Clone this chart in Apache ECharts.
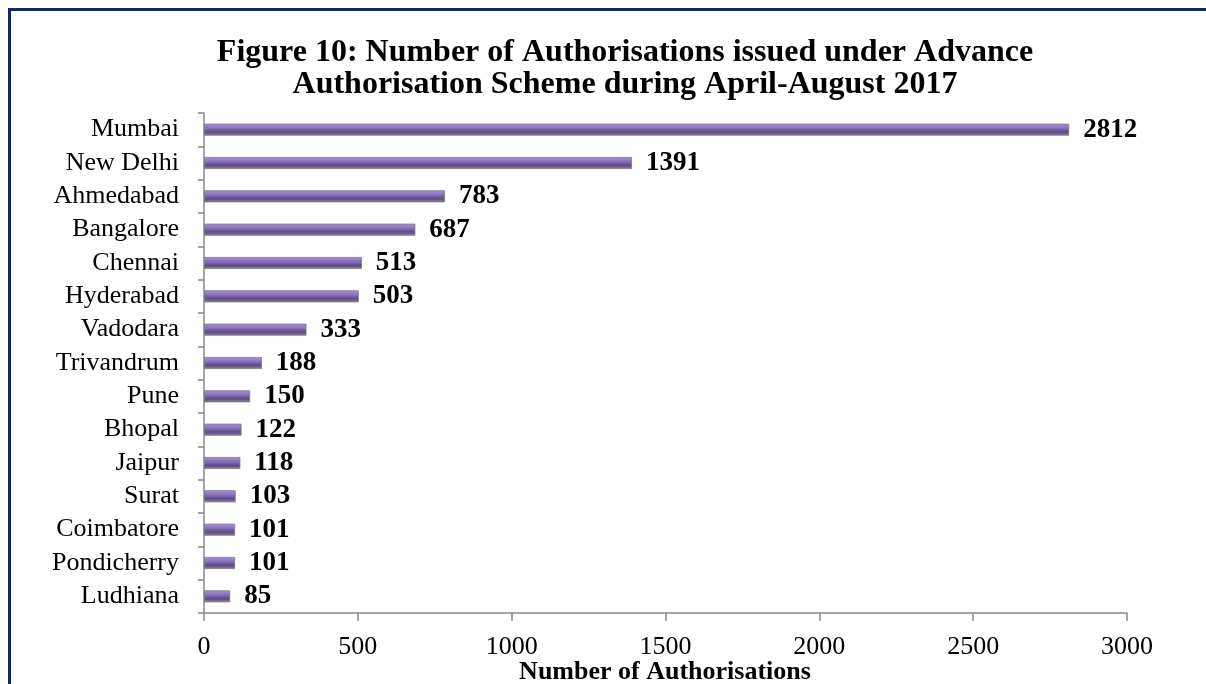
<!DOCTYPE html>
<html><head><meta charset="utf-8">
<script src="https://cdn.jsdelivr.net/npm/echarts@6/dist/echarts.min.js"></script>
<style>html,body{margin:0;padding:0;background:#fff}#c{width:1206px;height:684px}</style>
</head><body><div id="c"></div>
<script>
const categories = ['Mumbai','New Delhi','Ahmedabad','Bangalore','Chennai','Hyderabad','Vadodara','Trivandrum','Pune','Bhopal','Jaipur','Surat','Coimbatore','Pondicherry','Ludhiana'];
const values = [2812,1391,783,687,513,503,333,188,150,122,118,103,101,101,85];
const xTicks = [0,500,1000,1500,2000,2500,3000];
const xAxisTitle = 'Number of Authorisations';

const chart = echarts.init(document.getElementById('c'));
const font = '"Liberation Serif","Times New Roman",serif';
chart.setOption({
  animation:false,
  title:{
    text:'Figure 10: Number of Authorisations issued under Advance\nAuthorisation Scheme during April-August 2017',
    left:620, top:32, textAlign:'center',
    textStyle:{fontFamily:font,fontWeight:'bold',fontSize:32,lineHeight:32,color:'#000'}
  },
  graphic:[
    {type:'line',shape:{x1:8,y1:9.5,x2:1206,y2:9.5},style:{stroke:'#10296b',lineWidth:3}},
    {type:'line',shape:{x1:9.5,y1:8,x2:9.5,y2:684},style:{stroke:'#10296b',lineWidth:3}},
    {type:'text',x:665,y:672,style:{text:xAxisTitle,font:'bold 26px "Liberation Serif","Times New Roman",serif',
      fill:'#000',textAlign:'center',textVerticalAlign:'middle'}}
  ],
  grid:{left:204,right:79,top:113,bottom:71,containLabel:false,outerBoundsMode:'none'},
  xAxis:{
    type:'value',min:0,max:3000,interval:500,
    axisLine:{show:true,lineStyle:{color:'#888',width:1.5}},
    axisTick:{show:true,length:8,lineStyle:{color:'#888',width:1.5}},
    axisLabel:{fontFamily:font,fontSize:26,color:'#000',margin:21,hideOverlap:false,
      formatter:v=>xTicks.includes(v)?String(v):''},
    splitLine:{show:false}
  },
  yAxis:{
    type:'category',data:categories,inverse:true,
    axisLine:{show:true,lineStyle:{color:'#888',width:1.5}},
    axisTick:{show:true,length:6,inside:false,lineStyle:{color:'#888',width:1.5}},
    axisLabel:{fontFamily:font,fontSize:26,color:'#000',margin:25,interval:0,hideOverlap:false}
  },
  series:[{
    type:'bar',data:values,barWidth:12,
    itemStyle:{
      color:new echarts.graphic.LinearGradient(0,0,0,1,[
        {offset:0,color:'#a896cc'},{offset:0.35,color:'#8c72bf'},
        {offset:0.7,color:'#5e4a85'},{offset:1,color:'#8d7fa6'}
      ]),
      borderColor:'#7a7a7a',borderWidth:0.8
    },
    label:{show:true,position:'right',distance:14,fontFamily:font,fontWeight:'bold',fontSize:27,color:'#000'}
  }]
});
</script></body></html>
